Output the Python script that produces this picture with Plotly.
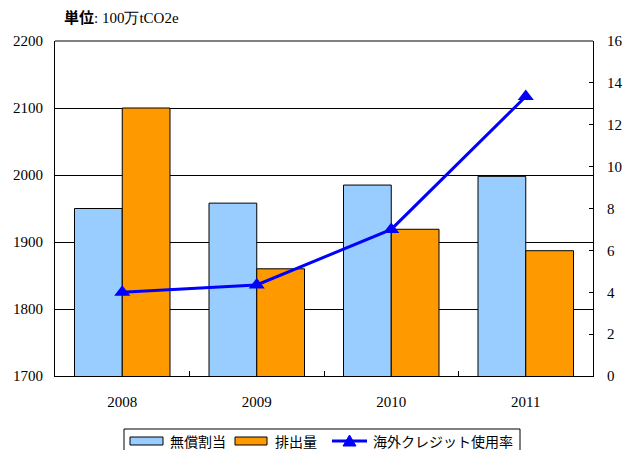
import plotly.graph_objects as go

years = ["2008", "2009", "2010", "2011"]
free_alloc = [1950, 1958, 1985, 1998]
emissions = [2100, 1860, 1919, 1887]
credit_rate = [4.0, 4.35, 7.0, 13.35]

names = ["無償割当", "排出量", "海外クレジット使用率"]

serif = "Liberation Serif"
jp = "Noto Sans CJK JP"
W, H = 623, 450

fig = go.Figure()
fig.add_trace(go.Bar(x=years, y=free_alloc, name=names[0],
                     marker=dict(color="#99CCFF", line=dict(color="#000000", width=1))))
fig.add_trace(go.Bar(x=years, y=emissions, name=names[1],
                     marker=dict(color="#FF9900", line=dict(color="#000000", width=1))))
fig.add_trace(go.Scatter(x=years, y=credit_rate, name=names[2], yaxis="y2",
                         mode="lines+markers",
                         line=dict(color="#0000FF", width=3),
                         marker=dict(symbol="triangle-up", size=14, color="#0000FF")))

fig.update_layout(
    width=W, height=H,
    margin=dict(l=55, r=30, t=41, b=74, autoexpand=False),
    plot_bgcolor="white", paper_bgcolor="white",
    barmode="group", bargap=0.29, bargroupgap=0,
    showlegend=False,
    xaxis=dict(type="category", showline=True, linecolor="#000000", linewidth=1,
               ticks="inside", tickson="boundaries", ticklen=5, tickcolor="#000000",
               tickfont=dict(family=serif, size=15, color="black"),
               ticklabelstandoff=12, showgrid=False),
    yaxis=dict(range=[1700, 2200], dtick=100, showline=True, linecolor="#000000", linewidth=1,
               gridcolor="#000000", gridwidth=1, ticks="inside", ticklen=4, tickcolor="#000000",
               tickfont=dict(family=serif, size=15, color="black"), zeroline=False,
               ticklabelstandoff=8),
    yaxis2=dict(range=[0, 16], dtick=2, overlaying="y", side="right",
                showline=True, linecolor="#000000", linewidth=1, showgrid=False,
                ticks="inside", ticklen=4, tickcolor="#000000",
                tickfont=dict(family=serif, size=15, color="black"), zeroline=False,
                ticklabelstandoff=10),
)

# top border of plot area
fig.add_shape(type="line", xref="paper", yref="paper", x0=0, x1=1, y0=1, y1=1,
              line=dict(color="#000000", width=1))

# unit label
fig.add_annotation(xref="paper", yref="paper", x=(62 - 55) / 538, y=1.0, yshift=12,
                   xanchor="left", yanchor="bottom", showarrow=False,
                   text="<b><span style='font-family:Noto Sans CJK JP'>単位</span></b>"
                        "<span style='font-family:Liberation Serif'>: 100万tCO2e</span>",
                   font=dict(size=15, color="black"))


# custom legend (pixel positions converted to paper space)
def bx(x):
    return (x - 55) / 538


def by(y):
    return (376 - y) / 335


fig.add_shape(type="rect", xref="paper", yref="paper",
              x0=bx(124), x1=bx(520), y0=by(452), y1=by(429),
              line=dict(color="#000000", width=1), fillcolor="white")
fig.add_shape(type="rect", xref="paper", yref="paper", x0=bx(130), x1=bx(163),
              y0=by(445), y1=by(437), fillcolor="#99CCFF", line=dict(color="#000000", width=1))
fig.add_shape(type="rect", xref="paper", yref="paper", x0=bx(235), x1=bx(267),
              y0=by(445), y1=by(437), fillcolor="#FF9900", line=dict(color="#000000", width=1))
fig.add_shape(type="line", xref="paper", yref="paper", x0=bx(332), x1=bx(367),
              y0=by(441), y1=by(441), line=dict(color="#0000FF", width=3))
tri = "M {:.5f} {:.5f} L {:.5f} {:.5f} L {:.5f} {:.5f} Z".format(
    bx(343), by(446), bx(356), by(446), bx(349.5), by(435))
fig.add_shape(type="path", xref="paper", yref="paper", path=tri,
              fillcolor="#0000FF", line=dict(color="#0000FF", width=1))

for tx, label in [(168, names[0]), (273, names[1]), (371, names[2])]:
    fig.add_annotation(xref="paper", yref="paper", x=bx(tx), y=by(441), text=label,
                       xanchor="left", yanchor="middle", showarrow=False,
                       font=dict(family=jp, size=14, color="black"))

fig.write_html("out.html")
